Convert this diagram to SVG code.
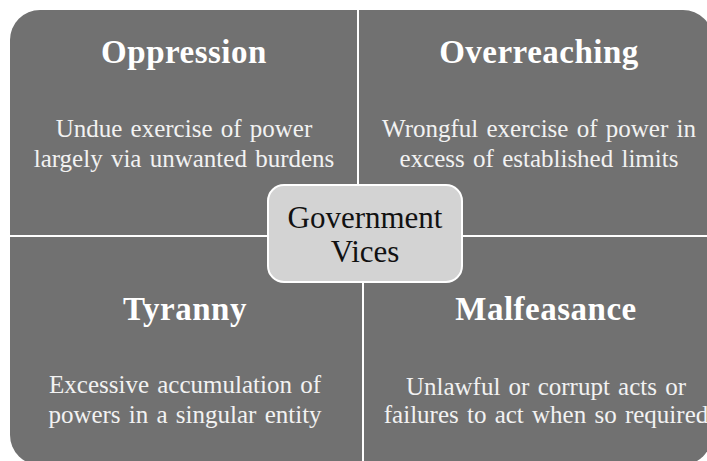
<svg xmlns="http://www.w3.org/2000/svg" width="707" height="461" viewBox="0 0 707 461">
  <style>
    .quad { fill: #717171; }
    .title { font-family: "Liberation Serif", "Times New Roman", serif; font-weight: bold; font-size: 33px; fill: #ffffff; text-anchor: middle; letter-spacing: 0.5px; }
    .desc { font-family: "Liberation Serif", "Times New Roman", serif; font-size: 25px; fill: #f2f2f2; text-anchor: middle; word-spacing: 2px; }
    .center-box { fill: #d3d3d3; stroke: #ffffff; stroke-width: 2; }
    .center-text { font-family: "Liberation Serif", "Times New Roman", serif; font-size: 31px; fill: #111111; text-anchor: middle; }
  </style>
  <rect width="707" height="461" fill="#ffffff"/>
  <g id="oppression">
    <path class="quad" d="M10,40 A30,30 0 0 1 40,10 H357 V235 H10 Z"/>
    <text class="title" x="184" y="63">Oppression</text>
    <text class="desc" x="184" y="137">Undue exercise of power</text>
    <text class="desc" x="184" y="167">largely via unwanted burdens</text>
  </g>
  <g id="overreaching">
    <path class="quad" d="M359,10 H683 A30,30 0 0 1 713,40 V235 H359 Z"/>
    <text class="title" x="539" y="63">Overreaching</text>
    <text class="desc" x="539" y="137">Wrongful exercise of power in</text>
    <text class="desc" x="539" y="167">excess of established limits</text>
  </g>
  <g id="tyranny">
    <path class="quad" d="M10,237 H362 V465 H40 A30,30 0 0 1 10,435 Z"/>
    <text class="title" x="185" y="320">Tyranny</text>
    <text class="desc" x="185" y="393">Excessive accumulation of</text>
    <text class="desc" x="185" y="423">powers in a singular entity</text>
  </g>
  <g id="malfeasance">
    <path class="quad" d="M364,237 H712 V435 A30,30 0 0 1 682,465 H364 Z"/>
    <text class="title" x="546" y="320">Malfeasance</text>
    <text class="desc" x="546" y="395">Unlawful or corrupt acts or</text>
    <text class="desc" x="546" y="423">failures to act when so required</text>
  </g>
  <g id="connectors"></g>
  <g id="government-vices">
    <rect class="center-box" x="268" y="185" width="194" height="97" rx="16" ry="16"/>
    <text class="center-text" x="365" y="228">Government</text>
    <text class="center-text" x="365" y="262">Vices</text>
  </g>
</svg>
